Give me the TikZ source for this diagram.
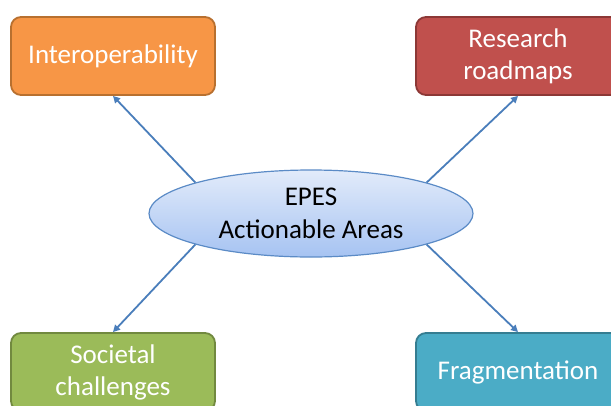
\documentclass[tikz,border=0pt]{standalone}
\usepackage{fontspec}
\setmainfont{Carlito}
\usetikzlibrary{shapes.geometric,arrows.meta}
\definecolor{orfill}{HTML}{F79646}
\definecolor{ordraw}{HTML}{B8702F}
\definecolor{rdfill}{HTML}{C0504D}
\definecolor{rddraw}{HTML}{8C3836}
\definecolor{grfill}{HTML}{9BBB59}
\definecolor{grdraw}{HTML}{71893F}
\definecolor{tlfill}{HTML}{4BACC6}
\definecolor{tldraw}{HTML}{357D91}
\definecolor{arrcol}{HTML}{4A7EBB}
\definecolor{elltop}{HTML}{E2EBFA}
\definecolor{ellbot}{HTML}{A6C3F2}
\definecolor{elldraw}{HTML}{5B8BC6}
\tikzset{
  area/.style={rounded corners=10pt, line width=1.8pt, minimum width=204pt, minimum height=78pt,
    text=white, align=center, font=\fontsize{27}{32}\selectfont, inner sep=0pt},
  center/.style={ellipse, minimum width=324pt, minimum height=87pt, top color=elltop,
    bottom color=ellbot, draw=elldraw, line width=1.2pt, align=center,
    font=\fontsize{27}{33}\selectfont, inner sep=0pt},
  arr/.style={draw=arrcol, line width=1.8pt, -{Triangle[length=7pt,width=7pt]}}
}
\begin{document}
\begin{tikzpicture}[x=1pt,y=-1pt]
\useasboundingbox (0,0) rectangle (611,405);
\clip (0,0) rectangle (611,405);
\node[area, fill=orfill, draw=ordraw] (il) at (113,56) {Interoperability};
\node[area, fill=rdfill, draw=rddraw] (rr) at (518,56) {Research\\roadmaps};
\node[area, fill=grfill, draw=grdraw] (sc) at (113,372) {Societal\\challenges};
\node[area, fill=tlfill, draw=tldraw] (fr) at (518,372) {Fragmentation};
\node[center] (ell) at (311,213.5) {EPES\\Actionable Areas};
\draw[arr] (ell.165) -- (il.south);
\draw[arr] (ell.15) -- (rr.south);
\draw[arr] (ell.195) -- (sc.north);
\draw[arr] (ell.345) -- (fr.north);
\end{tikzpicture}
\end{document}
